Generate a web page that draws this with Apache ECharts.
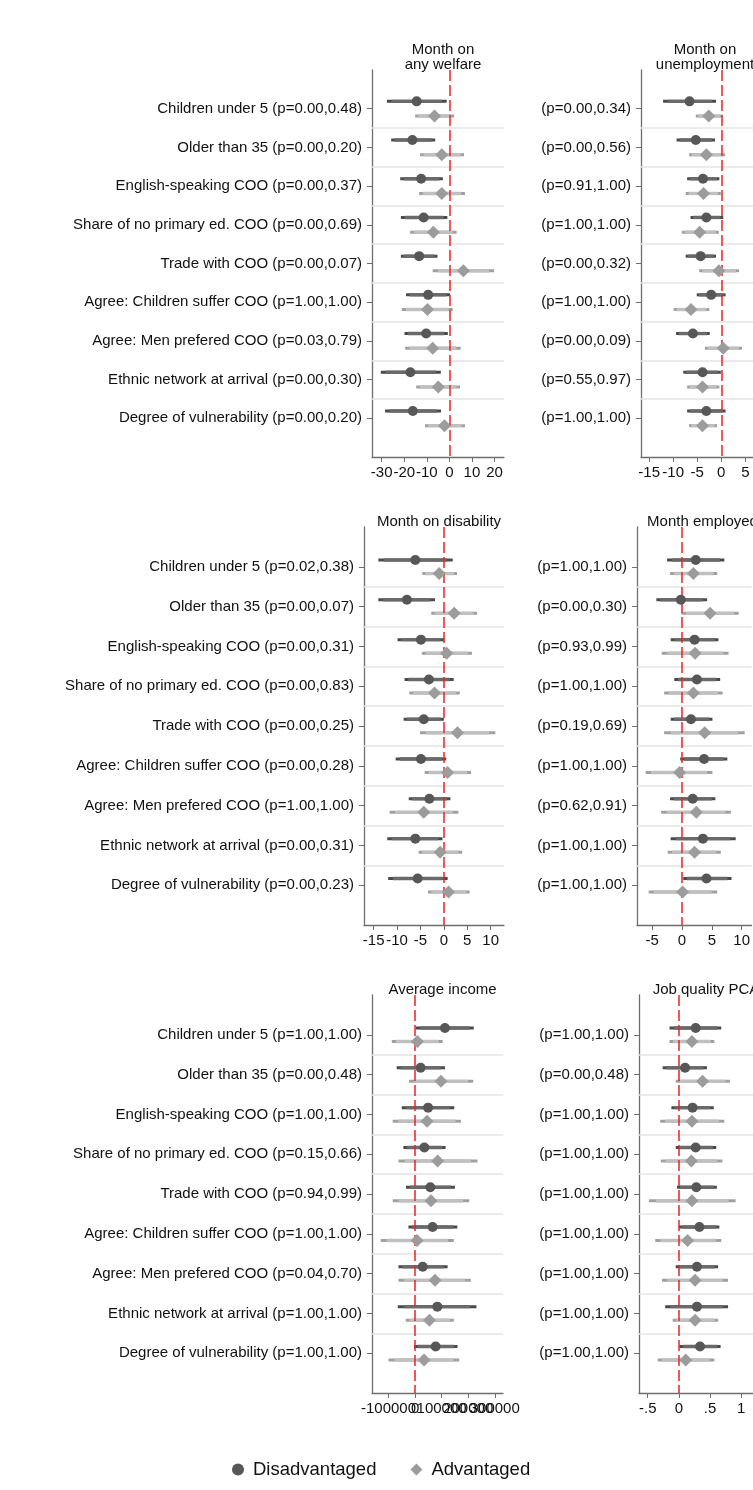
<!DOCTYPE html>
<html>
<head>
<meta charset="utf-8">
<script src="https://cdn.jsdelivr.net/npm/echarts@6/dist/echarts.min.js"></script>
<style>
  html, body { margin: 0; padding: 0; background: #fff; }
  #chart { width: 753px; height: 1490px; }
</style>
</head>
<body>
<div id="chart"></div>
<script>
// Heterogeneity characteristics (rows of every panel)
const categories = [
  'Children under 5', 'Older than 35', 'English-speaking COO',
  'Share of no primary ed. COO', 'Trade with COO', 'Agree: Children suffer COO',
  'Agree: Men prefered COO', 'Ethnic network at arrival', 'Degree of vulnerability'
];

// ---- Month on any welfare ----
const welfareP = ['0.00,0.48','0.00,0.20','0.00,0.37','0.00,0.69','0.00,0.07','1.00,1.00','0.03,0.79','0.00,0.30','0.00,0.20'];
const welfareDisCoef = [-14.5, -16.4, -12.5, -11.4, -13.4, -9.4, -10.3, -17.3, -16.2];
const welfareDisLo   = [-27.7, -25.8, -21.8, -21.5, -21.5, -19.2, -19.9, -30.4, -28.5];
const welfareDisHi   = [-1.2, -6.3, -2.9, -0.9, -5.3, 0.3, -0.7, -3.8, -3.7];
const welfareAdvCoef = [-6.6, -3.4, -3.4, -7.1, 6.2, -9.7, -7.4, -4.9, -2.2];
const welfareAdvLo   = [-15.2, -13.0, -13.4, -17.4, -7.4, -21.1, -19.6, -14.7, -10.8];
const welfareAdvHi   = [2.1, 6.5, 6.9, 3.2, 19.8, 1.5, 5.0, 4.7, 6.9];
const welfareTicks   = [-30, -20, -10, 0, 10, 20];

// ---- Month on unemployment ----
const unempP = ['0.00,0.34','0.00,0.56','0.91,1.00','1.00,1.00','0.00,0.32','1.00,1.00','0.00,0.09','0.55,0.97','1.00,1.00'];
const unempDisCoef = [-6.6, -5.3, -3.8, -3.1, -4.3, -2.1, -5.9, -3.9, -3.1];
const unempDisLo   = [-12.1, -9.3, -7.1, -6.4, -7.4, -5.1, -9.4, -7.9, -7.1];
const unempDisHi   = [-1.1, -1.3, -0.4, 0.4, -1.1, 0.9, -2.4, -0.1, 0.9];
const unempAdvCoef = [-2.6, -3.1, -3.7, -4.5, -0.5, -6.3, 0.4, -3.9, -3.9];
const unempAdvLo   = [-5.3, -6.7, -7.4, -8.2, -4.6, -9.9, -3.4, -7.1, -6.7];
const unempAdvHi   = [0.3, 0.8, -0.1, -0.5, 3.7, -2.5, 4.3, -0.4, -0.9];
const unempTicks   = [-15, -10, -5, 0, 5];

// ---- Month on disability ----
const disabP = ['0.02,0.38','0.00,0.07','0.00,0.31','0.00,0.83','0.00,0.25','0.00,0.28','1.00,1.00','0.00,0.31','0.00,0.23'];
const disabDisCoef = [-6.1, -7.9, -4.9, -3.2, -4.3, -4.9, -3.1, -6.1, -5.6];
const disabDisLo   = [-14.0, -14.0, -9.9, -8.4, -8.6, -10.3, -7.5, -12.1, -11.9];
const disabDisHi   = [1.9, -1.9, 0.1, 2.1, 0.0, 0.5, 1.4, -0.3, 0.8];
const disabAdvCoef = [-1.0, 2.2, 0.6, -2.0, 2.9, 0.8, -4.3, -0.8, 1.0];
const disabAdvLo   = [-4.6, -2.7, -4.7, -7.4, -5.1, -4.1, -11.6, -5.4, -3.4];
const disabAdvHi   = [2.8, 7.1, 6.0, 3.4, 11.0, 5.8, 3.1, 3.9, 5.5];
const disabTicks   = [-15, -10, -5, 0, 5, 10];

// ---- Month employed ----
const emplP = ['1.00,1.00','0.00,0.30','0.93,0.99','1.00,1.00','0.19,0.69','1.00,1.00','0.62,0.91','1.00,1.00','1.00,1.00'];
const emplDisCoef = [2.3, -0.2, 2.1, 2.5, 1.5, 3.7, 1.8, 3.5, 4.1];
const emplDisLo   = [-2.5, -4.3, -1.9, -1.3, -1.9, -0.3, -2.0, -1.9, 0.2];
const emplDisHi   = [7.1, 4.2, 6.1, 6.4, 5.1, 7.6, 5.6, 9.0, 8.3];
const emplAdvCoef = [1.9, 4.7, 2.2, 1.9, 3.8, -0.4, 2.4, 2.1, 0.1];
const emplAdvLo   = [-2.0, -0.1, -3.4, -3.0, -3.0, -6.1, -3.5, -2.4, -5.6];
const emplAdvHi   = [5.9, 9.5, 7.8, 6.8, 10.5, 5.1, 8.2, 6.5, 5.9];
const emplTicks   = [-5, 0, 5, 10];

// ---- Average income ----
const incomeP = ['1.00,1.00','0.00,0.48','1.00,1.00','0.15,0.66','0.94,0.99','1.00,1.00','0.04,0.70','1.00,1.00','1.00,1.00'];
const incomeDisCoef = [112500, 21000, 49000, 35000, 57500, 66000, 29000, 84000, 77500];
const incomeDisLo   = [2500, -69000, -50000, -44000, -34000, -25000, -62500, -65000, -4000];
const incomeDisHi   = [221000, 112500, 147500, 115000, 150000, 159000, 122500, 231000, 160000];
const incomeAdvCoef = [8750, 97500, 45000, 85000, 60000, 7500, 75000, 54000, 34000];
const incomeAdvLo   = [-87500, -22500, -84000, -62500, -84000, -129000, -62500, -35000, -100000];
const incomeAdvHi   = [104000, 219000, 172500, 235000, 204000, 146000, 210000, 146000, 166000];
const incomeTicks   = [-100000, 0, 100000, 200000, 300000];

// ---- Job quality PCA ----
const jobP = ['1.00,1.00','0.00,0.48','1.00,1.00','1.00,1.00','1.00,1.00','1.00,1.00','1.00,1.00','1.00,1.00','1.00,1.00'];
const jobDisCoef = [0.27, 0.10, 0.22, 0.27, 0.28, 0.33, 0.29, 0.29, 0.34];
const jobDisLo   = [-0.15, -0.26, -0.12, -0.05, -0.03, 0.00, -0.05, -0.22, 0.01];
const jobDisHi   = [0.68, 0.45, 0.56, 0.60, 0.61, 0.65, 0.63, 0.79, 0.67];
const jobAdvCoef = [0.21, 0.38, 0.21, 0.20, 0.21, 0.14, 0.26, 0.26, 0.11];
const jobAdvLo   = [-0.15, -0.05, -0.30, -0.29, -0.48, -0.38, -0.27, -0.10, -0.34];
const jobAdvHi   = [0.57, 0.82, 0.73, 0.70, 0.91, 0.68, 0.79, 0.63, 0.57];
const jobTicks   = [-0.5, 0, 0.5, 1];

// 90% band drawn inside the 95% interval
const Z_RATIO = 1.645 / 1.96;

const FONT = '"Liberation Sans", Arial, sans-serif';
const DIS_DOT = '#575757', DIS_OUT = '#4a4a4a', DIS_IN = '#6a6a6a';
const ADV_DOT = '#9c9c9c', ADV_OUT = '#a0a0a0', ADV_IN = '#c0c0c0';

const plainFmt = v => String(v);
const stataFmt = v => v === 0 ? '0' : (v < 0 ? '-' : '') + String(Math.abs(v)).replace(/^0\./, '.');

const panels = [
  { title: 'Month on\nany welfare', titleTop: 37, grid: { left: 372, top: 70, width: 132, height: 387 }, x: [-34.3, 24.2],
    full: true, p: welfareP, ticks: welfareTicks, fmt: plainFmt, off: 0.19,
    dis: [welfareDisCoef, welfareDisLo, welfareDisHi], adv: [welfareAdvCoef, welfareAdvLo, welfareAdvHi] },
  { title: 'Month on\nunemployment', titleTop: 37, grid: { left: 641, top: 70, width: 118, height: 387 }, x: [-16.7, 6.6],
    full: false, p: unempP, ticks: unempTicks, fmt: plainFmt, off: 0.19,
    dis: [unempDisCoef, unempDisLo, unempDisHi], adv: [unempAdvCoef, unempAdvLo, unempAdvHi] },
  { title: 'Month on disability', titleTop: 509, grid: { left: 364, top: 527, width: 140, height: 398 }, x: [-17.07, 12.85],
    full: true, p: disabP, ticks: disabTicks, fmt: plainFmt, off: 0.17,
    dis: [disabDisCoef, disabDisLo, disabDisHi], adv: [disabAdvCoef, disabAdvLo, disabAdvHi] },
  { title: 'Month employed', titleTop: 509, grid: { left: 637, top: 527, width: 121, height: 398 }, x: [-7.55, 11.65],
    full: false, p: emplP, ticks: emplTicks, fmt: plainFmt, off: 0.17,
    dis: [emplDisCoef, emplDisLo, emplDisHi], adv: [emplAdvCoef, emplAdvLo, emplAdvHi] },
  { title: 'Average income', titleTop: 977, grid: { left: 372, top: 995, width: 131, height: 398 }, x: [-162000, 331000],
    full: true, p: incomeP, ticks: incomeTicks, fmt: plainFmt, off: 0.17, crowded: true,
    dis: [incomeDisCoef, incomeDisLo, incomeDisHi], adv: [incomeAdvCoef, incomeAdvLo, incomeAdvHi] },
  { title: 'Job quality PCA', titleTop: 977, grid: { left: 639, top: 995, width: 124, height: 398 }, x: [-0.64, 1.19],
    full: false, p: jobP, ticks: jobTicks, fmt: stataFmt, off: 0.17,
    dis: [jobDisCoef, jobDisLo, jobDisHi], adv: [jobAdvCoef, jobAdvLo, jobAdvHi] }
];

const rowValues = categories.map((_, i) => i + 1);

function ciSeries(gi, rows, color, width, id) {
  return {
    type: 'custom', name: id, xAxisIndex: gi, yAxisIndex: gi, silent: true, z: 3,
    encode: { x: [0, 1], y: 2 },
    itemStyle: { color: color },
    data: rows,
    renderItem: (params, api) => {
      const a = api.coord([api.value(0), api.value(2)]);
      const b = api.coord([api.value(1), api.value(2)]);
      return { type: 'line', shape: { x1: a[0], y1: a[1], x2: b[0], y2: b[1] },
               style: { stroke: color, lineWidth: width } };
    }
  };
}

const option = {
  backgroundColor: '#fff',
  animation: false,
  textStyle: { fontFamily: FONT },
  title: [], grid: [], xAxis: [], yAxis: [], series: [],
  legend: {
    left: 227, top: 1455, itemWidth: 12, itemHeight: 12, itemGap: 34,
    textStyle: { fontSize: 18.5, color: '#111', fontFamily: FONT, padding: [0, 0, 0, 4] },
    data: [
      { name: 'Disadvantaged', icon: 'circle', itemStyle: { color: DIS_DOT } },
      { name: 'Advantaged', icon: 'diamond', itemStyle: { color: ADV_DOT } }
    ]
  }
};

const xLabelStyle = { fontSize: 15, color: '#111', margin: 8, hideOverlap: false, showMinLabel: true, showMaxLabel: true, fontFamily: FONT };
const extraXAxes = [];

panels.forEach((pn, gi) => {
  const g = pn.grid;
  option.grid.push(Object.assign({ containLabel: false }, g));
  option.title.push({
    text: pn.title, left: g.left + g.width / 2, top: pn.titleTop, textAlign: 'center',
    textStyle: { fontSize: 15, fontWeight: 'normal', color: '#111', lineHeight: 15, fontFamily: FONT }
  });
  // Wide numbers overlap each other: split the labels over two stacked axes so all of them get drawn
  const mainLabels = pn.crowded ? pn.ticks.filter((_, i) => i % 2 === 0) : pn.ticks;
  option.xAxis.push({
    type: 'value', gridIndex: gi, min: pn.x[0], max: pn.x[1], position: 'bottom',
    axisLine: { show: true, onZero: false, lineStyle: { color: '#6e6e6e', width: 1.3 } },
    axisTick: { show: true, length: 5, customValues: pn.ticks, lineStyle: { color: '#6e6e6e', width: 1 } },
    axisLabel: Object.assign({ customValues: mainLabels, formatter: pn.fmt }, xLabelStyle),
    splitLine: { show: false }
  });
  if (pn.crowded) {
    extraXAxes.push({
      type: 'value', gridIndex: gi, min: pn.x[0], max: pn.x[1], position: 'bottom', offset: 0,
      axisLine: { show: false, onZero: false }, axisTick: { show: false },
      axisLabel: Object.assign({ customValues: pn.ticks.filter((_, i) => i % 2 === 1), formatter: pn.fmt }, xLabelStyle),
      splitLine: { show: false }
    });
  }
  const labels = categories.map((c, i) => (pn.full ? c + ' ' : '') + '(p=' + pn.p[i] + ')');
  option.yAxis.push({
    type: 'value', gridIndex: gi, min: 0, max: 10, inverse: true,
    axisLine: { show: true, onZero: false, lineStyle: { color: '#6e6e6e', width: 1.3 } },
    axisTick: { show: true, length: 5, customValues: rowValues, lineStyle: { color: '#6e6e6e', width: 1 } },
    axisLabel: { customValues: rowValues, formatter: v => labels[Math.round(v) - 1] || '', fontSize: 15, color: '#111', margin: 10, fontFamily: FONT },
    splitLine: { show: false }
  });

  const disY = rowValues.map(r => r - pn.off);
  const advY = rowValues.map(r => r + pn.off);
  const [dc, dl, dh] = pn.dis;
  const [ac, al, ah] = pn.adv;
  const outer = (c, l, h, ys) => c.map((v, i) => [l[i], h[i], ys[i]]);
  const inner = (c, l, h, ys) => c.map((v, i) => [v - (v - l[i]) * Z_RATIO, v + (h[i] - v) * Z_RATIO, ys[i]]);

  // row separators and the zero reference line
  option.series.push({
    type: 'line', name: 'guides', xAxisIndex: gi, yAxisIndex: gi, data: [], silent: true, z: 1,
    markLine: {
      silent: true, symbol: 'none', animation: false,
      label: { show: false },
      data: [1.5, 2.5, 3.5, 4.5, 5.5, 6.5, 7.5, 8.5].map(v => ({ yAxis: v, lineStyle: { color: '#e4e4e4', width: 1.5, type: 'solid' } }))
        .concat([{ xAxis: 0, lineStyle: { color: '#ec2327', width: 1.5, type: [11, 4] } }])
    }
  });

  option.series.push(ciSeries(gi, outer(dc, dl, dh, disY), DIS_OUT, 3, 'disCI95'));
  option.series.push(ciSeries(gi, inner(dc, dl, dh, disY), DIS_IN, 3.4, 'disCI90'));
  option.series.push(ciSeries(gi, outer(ac, al, ah, advY), ADV_OUT, 3, 'advCI95'));
  option.series.push(ciSeries(gi, inner(ac, al, ah, advY), ADV_IN, 3.4, 'advCI90'));

  option.series.push({
    type: 'scatter', name: 'Disadvantaged', xAxisIndex: gi, yAxisIndex: gi, z: 5,
    symbol: 'circle', symbolSize: 10, itemStyle: { color: DIS_DOT, opacity: 1 },
    data: dc.map((v, i) => [v, disY[i]])
  });
  option.series.push({
    type: 'scatter', name: 'Advantaged', xAxisIndex: gi, yAxisIndex: gi, z: 5,
    symbol: 'diamond', symbolSize: 13, itemStyle: { color: ADV_DOT, opacity: 1 },
    data: ac.map((v, i) => [v, advY[i]])
  });
});

// label-only axes go after the six main ones so series indices stay aligned with grids
option.xAxis = option.xAxis.concat(extraXAxes);

const chart = echarts.init(document.getElementById('chart'), null, { renderer: 'canvas' });
chart.setOption(option);
</script>
</body>
</html>
